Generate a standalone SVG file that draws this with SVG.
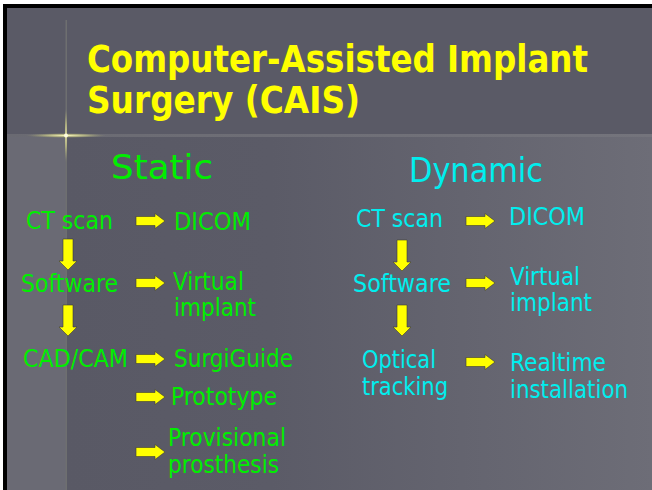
<svg xmlns="http://www.w3.org/2000/svg" xmlns:xlink="http://www.w3.org/1999/xlink" width="652" height="490" viewBox="0 0 652 490">
  <style>
    .title { font-family: "DejaVu Sans Condensed", "DejaVu Sans", "Liberation Sans", sans-serif; font-weight: bold; font-size: 37px; fill: #ffff00; }
    .head { font-family: "DejaVu Sans", "Liberation Sans", sans-serif; font-size: 33px; }
    .body { font-family: "DejaVu Sans Condensed", "DejaVu Sans", "Liberation Sans", sans-serif; font-size: 24px; }
    .green { fill: #00ee00; }
    .cyan { fill: #00eeee; }
    .arrow { fill: #ffff00; stroke: #3c3c34; stroke-width: 1; stroke-opacity: 0.6; }
  </style>
  <defs>
    <linearGradient id="lowerBg" x1="0" y1="0" x2="1" y2="0">
      <stop offset="0" stop-color="#595965"/>
      <stop offset="0.35" stop-color="#5b5b67"/>
      <stop offset="1" stop-color="#6d6d77"/>
    </linearGradient>
    <linearGradient id="ruleGrad" x1="0" y1="0" x2="1" y2="0">
      <stop offset="0" stop-color="#6a6a72"/>
      <stop offset="1" stop-color="#74747c"/>
    </linearGradient>
    <radialGradient id="glowH" cx="0.5" cy="0.5" r="0.5">
      <stop offset="0" stop-color="#fffcc0" stop-opacity="1"/>
      <stop offset="0.5" stop-color="#d8d88a" stop-opacity="0.6"/>
      <stop offset="1" stop-color="#a0a070" stop-opacity="0"/>
    </radialGradient>
    <path id="arrowRight" d="M0,-4.5 H19 V-7.5 L29,0 L19,7.5 V4.5 H0 Z"/>
    <path id="arrowDown" d="M-5,0 H5 V22 H9 L0,31 L-9,22 H-5 Z"/>
  </defs>

  <!-- page and slide frame -->
  <rect x="0" y="0" width="652" height="490" fill="#ffffff"/>
  <rect x="3" y="4" width="649" height="486" fill="#000000"/>
  <rect x="7" y="8" width="645" height="482" fill="#5a5a66"/>
  <rect x="66" y="137" width="586" height="353" fill="url(#lowerBg)"/>
  <rect x="7" y="137" width="59" height="353" fill="#6a6a74"/>

  <!-- divider lines with sparkle -->
  <rect x="7" y="134" width="645" height="3" fill="url(#ruleGrad)"/>
  <rect x="65.5" y="20" width="1.5" height="470" fill="#6e6f70"/>
  <ellipse cx="66" cy="135.5" rx="40" ry="2.4" fill="url(#glowH)"/>
  <ellipse cx="66" cy="135.5" rx="1.6" ry="28" fill="url(#glowH)"/>
  <circle cx="66" cy="135.5" r="2" fill="#fffde0"/>

  <!-- title -->
  <g id="title">
    <text class="title" x="87" y="72" textLength="501" lengthAdjust="spacingAndGlyphs">Computer-Assisted Implant</text>
    <text class="title" x="87" y="113" textLength="273" lengthAdjust="spacingAndGlyphs">Surgery (CAIS)</text>
  </g>

  <!-- column headings -->
  <g id="heading-static"><text class="head green" x="111" y="179" textLength="102" lengthAdjust="spacingAndGlyphs">Static</text></g>
  <g id="heading-dynamic"><text class="head cyan" x="409" y="182" textLength="134" lengthAdjust="spacingAndGlyphs">Dynamic</text></g>

  <!-- static column -->
  <g id="s-ctscan"><text class="body green" x="26" y="229" textLength="87" lengthAdjust="spacingAndGlyphs">CT scan</text></g>
  <g id="s-dicom"><text class="body green" x="174" y="230" textLength="77" lengthAdjust="spacingAndGlyphs">DICOM</text></g>
  <g id="s-software"><text class="body green" x="21" y="292" textLength="97" lengthAdjust="spacingAndGlyphs">Software</text></g>
  <g id="s-virtual">
    <text class="body green" x="173" y="290" textLength="71" lengthAdjust="spacingAndGlyphs">Virtual</text>
    <text class="body green" x="174" y="316" textLength="82" lengthAdjust="spacingAndGlyphs">implant</text>
  </g>
  <g id="s-cadcam"><text class="body green" x="23" y="367" textLength="105" lengthAdjust="spacingAndGlyphs">CAD/CAM</text></g>
  <g id="s-surgiguide"><text class="body green" x="174" y="367" textLength="119" lengthAdjust="spacingAndGlyphs">SurgiGuide</text></g>
  <g id="s-prototype"><text class="body green" x="171" y="405" textLength="106" lengthAdjust="spacingAndGlyphs">Prototype</text></g>
  <g id="s-provisional">
    <text class="body green" x="168" y="446" textLength="118" lengthAdjust="spacingAndGlyphs">Provisional</text>
    <text class="body green" x="168" y="473" textLength="111" lengthAdjust="spacingAndGlyphs">prosthesis</text>
  </g>

  <!-- dynamic column -->
  <g id="d-ctscan"><text class="body cyan" x="356" y="227" textLength="87" lengthAdjust="spacingAndGlyphs">CT scan</text></g>
  <g id="d-dicom"><text class="body cyan" x="509" y="225" textLength="76" lengthAdjust="spacingAndGlyphs">DICOM</text></g>
  <g id="d-software"><text class="body cyan" x="353" y="292" textLength="98" lengthAdjust="spacingAndGlyphs">Software</text></g>
  <g id="d-virtual">
    <text class="body cyan" x="510" y="285" textLength="70" lengthAdjust="spacingAndGlyphs">Virtual</text>
    <text class="body cyan" x="510" y="311" textLength="82" lengthAdjust="spacingAndGlyphs">implant</text>
  </g>
  <g id="d-optical">
    <text class="body cyan" x="362" y="368" textLength="74" lengthAdjust="spacingAndGlyphs">Optical</text>
    <text class="body cyan" x="362" y="395" textLength="86" lengthAdjust="spacingAndGlyphs">tracking</text>
  </g>
  <g id="d-realtime">
    <text class="body cyan" x="510" y="371" textLength="96" lengthAdjust="spacingAndGlyphs">Realtime</text>
    <text class="body cyan" x="510" y="398" textLength="118" lengthAdjust="spacingAndGlyphs">installation</text>
  </g>

  <!-- connectors -->
  <g id="connectors" class="arrow">
    <use xlink:href="#arrowRight" transform="translate(136,221)"/>
    <use xlink:href="#arrowRight" transform="translate(136,283)"/>
    <use xlink:href="#arrowRight" transform="translate(136,359)"/>
    <use xlink:href="#arrowRight" transform="translate(136,397)"/>
    <use xlink:href="#arrowRight" transform="translate(136,452)"/>
    <use xlink:href="#arrowDown" transform="translate(68,239)"/>
    <use xlink:href="#arrowDown" transform="translate(68,305)"/>
    <use xlink:href="#arrowRight" transform="translate(466,221)"/>
    <use xlink:href="#arrowRight" transform="translate(466,283)"/>
    <use xlink:href="#arrowRight" transform="translate(466,362)"/>
    <use xlink:href="#arrowDown" transform="translate(402,240)"/>
    <use xlink:href="#arrowDown" transform="translate(402,305)"/>
  </g>
</svg>
